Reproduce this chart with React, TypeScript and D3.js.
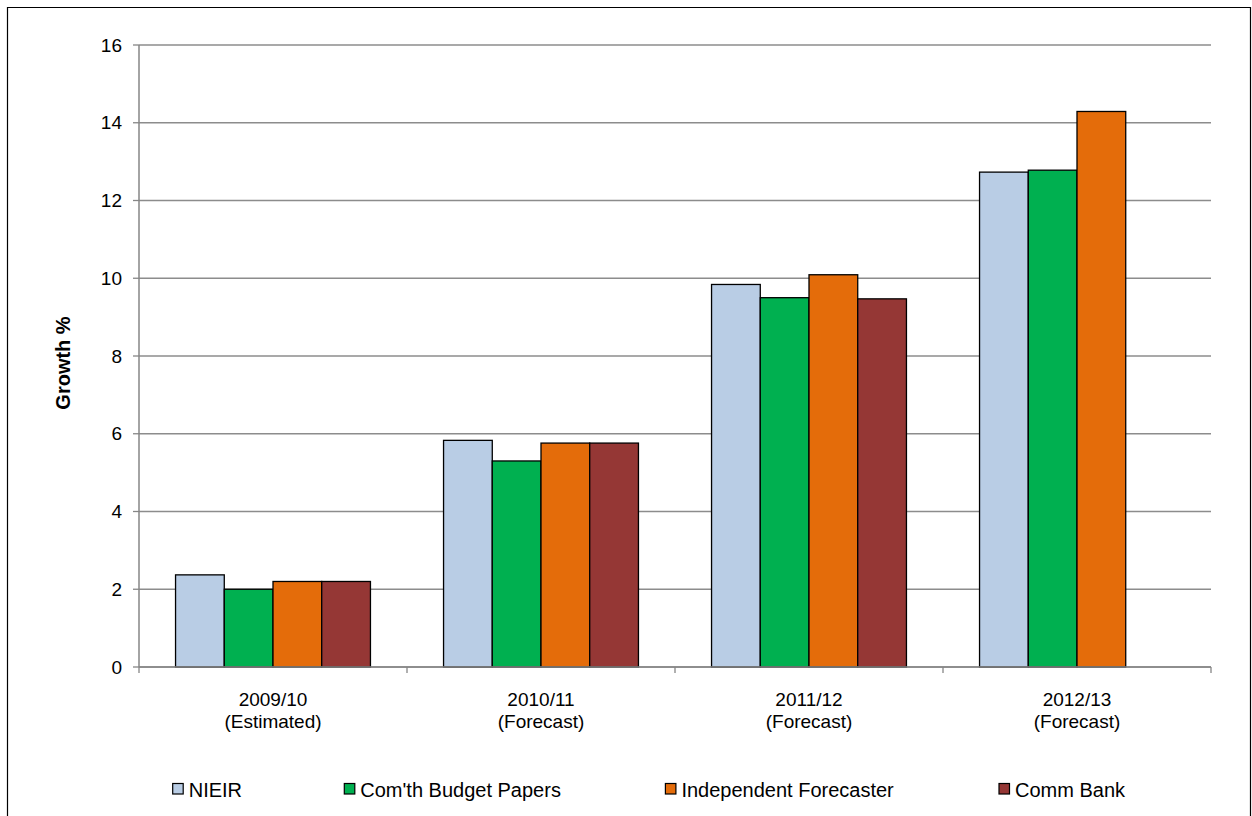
import React from "react";
import * as d3 from "d3";

const categories = ["2009/10|(Estimated)", "2010/11|(Forecast)", "2011/12|(Forecast)", "2012/13|(Forecast)"];
const seriesNames = ["NIEIR", "Com'th Budget Papers", "Independent Forecaster", "Comm Bank"];
const nieir = [2.37, 5.83, 9.84, 12.73];
const comth = [2.0, 5.3, 9.5, 12.78];
const independent = [2.2, 5.76, 10.09, 14.29];
const commBank: (number | null)[] = [2.2, 5.76, 9.47, null];
const yTicks = [0, 2, 4, 6, 8, 10, 12, 14, 16];
const colors = ["#B9CDE5", "#00B050", "#E46C0A", "#953735"];

const seriesValues = [nieir, comth, independent, commBank];

const FONT = "'Liberation Sans', Arial, sans-serif";

export default function App() {
  const left = 139, right = 1211, top = 45, bottom = 667;
  const x0 = d3.scaleBand<string>().domain(categories).range([left, right]).padding(0);
  const x1 = d3.scaleBand<string>().domain(seriesNames).range([0, x0.bandwidth()]).paddingInner(0).paddingOuter(0.75);
  const y = d3.scaleLinear().domain([0, 16]).range([bottom, top]);

  const legendX = [172.7, 344.3, 665.4, 999];

  return (
    <svg width={1252} height={816} style={{ position: "absolute", left: 0, top: 0, background: "#fff" }}>
      <rect x={0} y={0} width={1252} height={816} fill="#fff" />
      {/* border */}
      <path d="M7.5,830 L7.5,7.5 L1250.5,7.5 L1250.5,830" fill="none" stroke="#000" strokeWidth={1.2} />
      {/* gridlines */}
      {yTicks.map((t) => (
        <line key={"g" + t} x1={left} x2={right} y1={y(t)} y2={y(t)} stroke="#8c8c8c" strokeWidth={1.3} />
      ))}
      {/* y axis */}
      <line x1={left} x2={left} y1={top} y2={bottom} stroke="#868686" strokeWidth={1.5} />
      {yTicks.map((t) => (
        <g key={"yt" + t}>
          <line x1={left - 6} x2={left} y1={y(t)} y2={y(t)} stroke="#868686" strokeWidth={1.3} />
          <text x={122} y={y(t)} dy="0.35em" textAnchor="end" fontFamily={FONT} fontSize={19} fill="#000">
            {t}
          </text>
        </g>
      ))}
      {/* bars */}
      {categories.map((c, ci) => (
        <g key={c} transform={`translate(${x0(c)},0)`}>
          {seriesNames.map((s, si) => {
            const v = seriesValues[si][ci];
            if (v == null) return null;
            return (
              <rect
                key={s}
                x={x1(s)}
                y={y(v)}
                width={x1.bandwidth()}
                height={y(0) - y(v)}
                fill={colors[si]}
                stroke="#000"
                strokeWidth={1.3}
              />
            );
          })}
        </g>
      ))}
      {/* x axis */}
      <line x1={left} x2={right} y1={bottom} y2={bottom} stroke="#868686" strokeWidth={1.5} />
      {[...categories.map((c) => x0(c) as number), right].map((xv, i) => (
        <line key={"xt" + i} x1={xv} x2={xv} y1={bottom} y2={bottom + 6} stroke="#868686" strokeWidth={1.3} />
      ))}
      {categories.map((c) => {
        const [l1, l2] = c.split("|");
        const cx = (x0(c) as number) + x0.bandwidth() / 2;
        return (
          <g key={"xl" + c}>
            <text x={cx} y={706} textAnchor="middle" fontFamily={FONT} fontSize={19} fill="#000">
              {l1}
            </text>
            <text x={cx} y={728} textAnchor="middle" fontFamily={FONT} fontSize={19} fill="#000">
              {l2}
            </text>
          </g>
        );
      })}
      {/* y title */}
      <text
        transform={`translate(70,363) rotate(-90)`}
        textAnchor="middle"
        fontFamily={FONT}
        fontWeight="bold"
        fontSize={20}
        fill="#000"
      >
        Growth %
      </text>
      {/* legend */}
      {seriesNames.map((s, i) => (
        <g key={"lg" + s}>
          <rect x={legendX[i]} y={783.5} width={10.5} height={10.5} fill={colors[i]} stroke="#000" strokeWidth={1.2} />
          <text x={legendX[i] + 16} y={796.7} fontFamily={FONT} fontSize={20} fill="#000">
            {s}
          </text>
        </g>
      ))}
    </svg>
  );
}
